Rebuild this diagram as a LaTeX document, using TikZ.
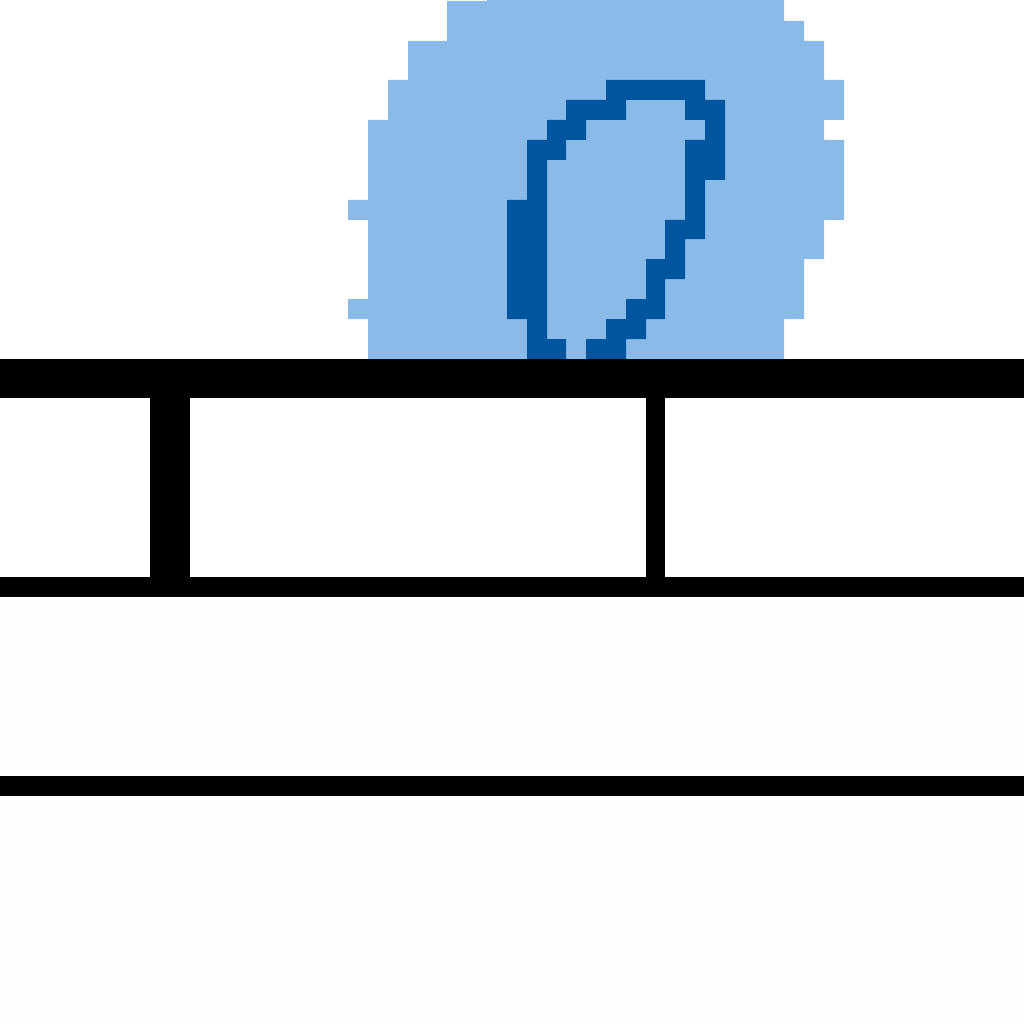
\documentclass[tikz,border=0pt]{standalone}
\usepackage{tikz}
\definecolor{lightblob}{HTML}{8ABBE8}
\definecolor{darkring}{HTML}{00559F}
\definecolor{offwhite}{HTML}{FEFEFE}

\begin{document}
\begin{tikzpicture}[x=1pt, y=-1pt,
      blob/.style={fill=lightblob},
      ring/.style={fill=darkring},
      bar/.style={fill=black}]
    \useasboundingbox (0,0) rectangle (1024,1024);
    \fill[white] (0,0) rectangle (1024,1024);
    \fill[offwhite] (0,597) rectangle (1024,1024);
    % light blob
    \fill[blob] (447,1) -- (487,1) -- (487,0) -- (784,0) -- (784,21) -- (804,21) -- (804,41) -- (824,41)
      -- (824,80) -- (844,80) -- (844,120) -- (824,120) -- (824,140) -- (844,140) -- (844,220)
      -- (824,220) -- (824,259) -- (804,259) -- (804,319) -- (784,319) -- (784,359) -- (368,359)
      -- (368,319) -- (348,319) -- (348,299) -- (368,299) -- (368,220) -- (348,220) -- (348,200)
      -- (368,200) -- (368,120) -- (388,120) -- (388,80) -- (408,80) -- (408,41) -- (447,41) -- cycle;
    % dark ring
    \fill[ring] (606,80) -- (705,80) -- (705,100) -- (725,100) -- (725,180) -- (705,180) -- (705,239)
      -- (685,239) -- (685,279) -- (665,279) -- (665,319) -- (646,319) -- (646,339) -- (626,339)
      -- (626,359) -- (586,359) -- (586,339) -- (606,339) -- (606,319) -- (626,319) -- (626,299)
      -- (646,299) -- (646,259) -- (665,259) -- (665,220) -- (685,220) -- (685,140) -- (705,140)
      -- (705,120) -- (685,120) -- (685,100) -- (626,100) -- (626,120) -- (586,120) -- (586,140)
      -- (566,140) -- (566,160) -- (547,160) -- (547,339) -- (566,339) -- (566,359) -- (527,359)
      -- (527,319) -- (507,319) -- (507,200) -- (527,200) -- (527,140) -- (547,140) -- (547,120)
      -- (566,120) -- (566,100) -- (606,100) -- cycle;
    % black bars
    \fill[bar] (0,359) rectangle (1024,398);
    \fill[bar] (150,398) rectangle (190,577);
    \fill[bar] (646,398) rectangle (665,577);
    \fill[bar] (0,577) rectangle (1024,597);
    \fill[bar] (0,776) rectangle (1024,796);
\end{tikzpicture}
\end{document}
